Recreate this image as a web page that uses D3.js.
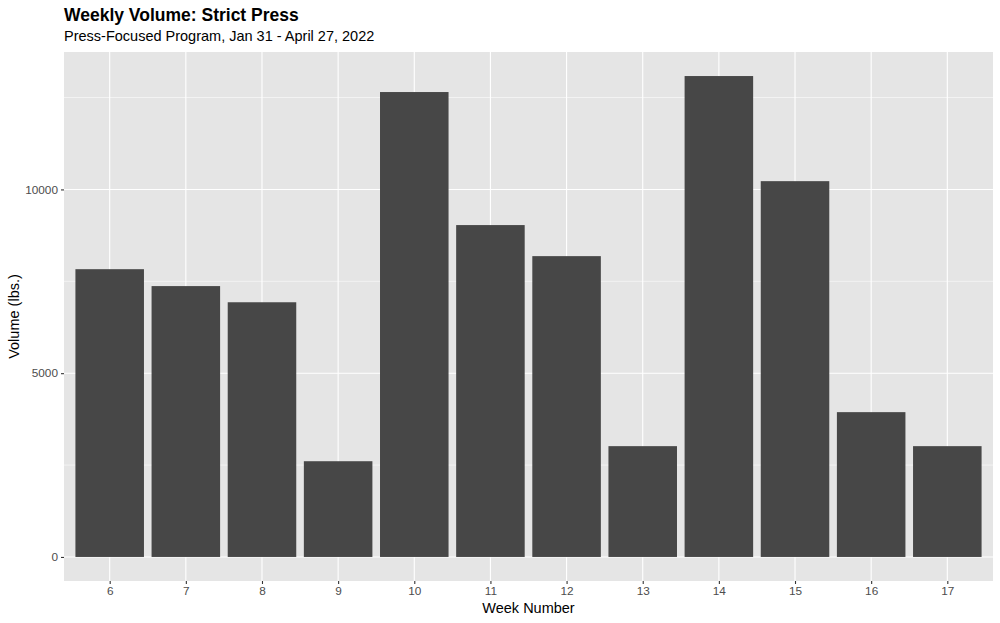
<!DOCTYPE html>
<html>
<head>
<meta charset="utf-8">
<script src="https://cdn.jsdelivr.net/npm/d3@7"></script>
<style>
  body { margin: 0; background: #fff; }
  svg { display: block; font-family: "Liberation Sans", Arial, Helvetica, sans-serif; }
</style>
</head>
<body>
<svg id="chart" width="1000" height="623"></svg>
<script>
const weeks = ["6", "7", "8", "9", "10", "11", "12", "13", "14", "15", "16", "17"];
const volumes = [7830, 7370, 6930, 2605, 12650, 9030, 8185, 3015, 13085, 10225, 3940, 3015];
const yTicks = [0, 5000, 10000];
const yMinor = [2500, 7500, 12500];
const titleText = "Weekly Volume: Strict Press";
const subtitleText = "Press-Focused Program, Jan 31 - April 27, 2022";
const xLabel = "Week Number";
const yLabel = "Volume (lbs.)";

const svg = d3.select("#chart");
const panel = { left: 64, top: 52, right: 993, bottom: 581 };

// ggplot-style discrete expansion: 0.6 units each side
const x = d3.scalePoint().domain(weeks)
  .range([panel.left, panel.right]).padding(0.6);
const step = x.step();
const barW = step * 0.9;

const maxV = d3.max(volumes);
const y = d3.scaleLinear()
  .domain([-0.05 * maxV, maxV * 1.05])
  .range([panel.bottom, panel.top]);

// panel background
svg.append("rect")
  .attr("x", panel.left).attr("y", panel.top)
  .attr("width", panel.right - panel.left).attr("height", panel.bottom - panel.top)
  .attr("fill", "#e5e5e5");

const grid = svg.append("g");
grid.selectAll("line.ymin").data(yMinor).join("line")
  .attr("x1", panel.left).attr("x2", panel.right)
  .attr("y1", d => y(d)).attr("y2", d => y(d))
  .attr("stroke", "#fff").attr("stroke-width", 0.55);
grid.selectAll("line.ymaj").data(yTicks).join("line")
  .attr("x1", panel.left).attr("x2", panel.right)
  .attr("y1", d => y(d)).attr("y2", d => y(d))
  .attr("stroke", "#fff").attr("stroke-width", 1.1);
grid.selectAll("line.xmaj").data(weeks).join("line")
  .attr("x1", d => x(d)).attr("x2", d => x(d))
  .attr("y1", panel.top).attr("y2", panel.bottom)
  .attr("stroke", "#fff").attr("stroke-width", 1.1);

// bars
svg.append("g").selectAll("rect").data(weeks).join("rect")
  .attr("x", d => x(d) - barW / 2)
  .attr("width", barW)
  .attr("y", (d, i) => y(volumes[i]))
  .attr("height", (d, i) => y(0) - y(volumes[i]))
  .attr("fill", "#474747");

// axes
const xAxis = svg.append("g")
  .attr("transform", `translate(0,${panel.bottom})`)
  .call(d3.axisBottom(x).tickSize(3).tickPadding(3));
const yAxis = svg.append("g")
  .attr("transform", `translate(${panel.left},0)`)
  .call(d3.axisLeft(y).tickValues(yTicks).tickFormat(d3.format("d")).tickSize(3).tickPadding(3));
[xAxis, yAxis].forEach(a => {
  a.select(".domain").remove();
  a.selectAll(".tick line").attr("stroke", "#333").attr("stroke-width", 1.1);
  a.selectAll(".tick text").attr("fill", "#4d4d4d")
    .style("font-size", "11.8px")
    .style("font-family", "'Liberation Sans', Arial, sans-serif");
});

// titles
svg.append("text").attr("x", panel.left).attr("y", 20.5)
  .attr("font-size", 17.5).attr("font-weight", "bold").attr("fill", "#000")
  .text(titleText);
svg.append("text").attr("x", panel.left).attr("y", 40.5)
  .attr("font-size", 14.5).attr("fill", "#000")
  .text(subtitleText);

// axis titles
svg.append("text")
  .attr("x", (panel.left + panel.right) / 2).attr("y", 612.5)
  .attr("text-anchor", "middle").attr("font-size", 14.5).attr("fill", "#000")
  .text(xLabel);
svg.append("text")
  .attr("transform", `translate(19,${(panel.top + panel.bottom) / 2}) rotate(-90)`)
  .attr("text-anchor", "middle").attr("font-size", 14.5).attr("fill", "#000")
  .text(yLabel);
</script>
</body>
</html>
